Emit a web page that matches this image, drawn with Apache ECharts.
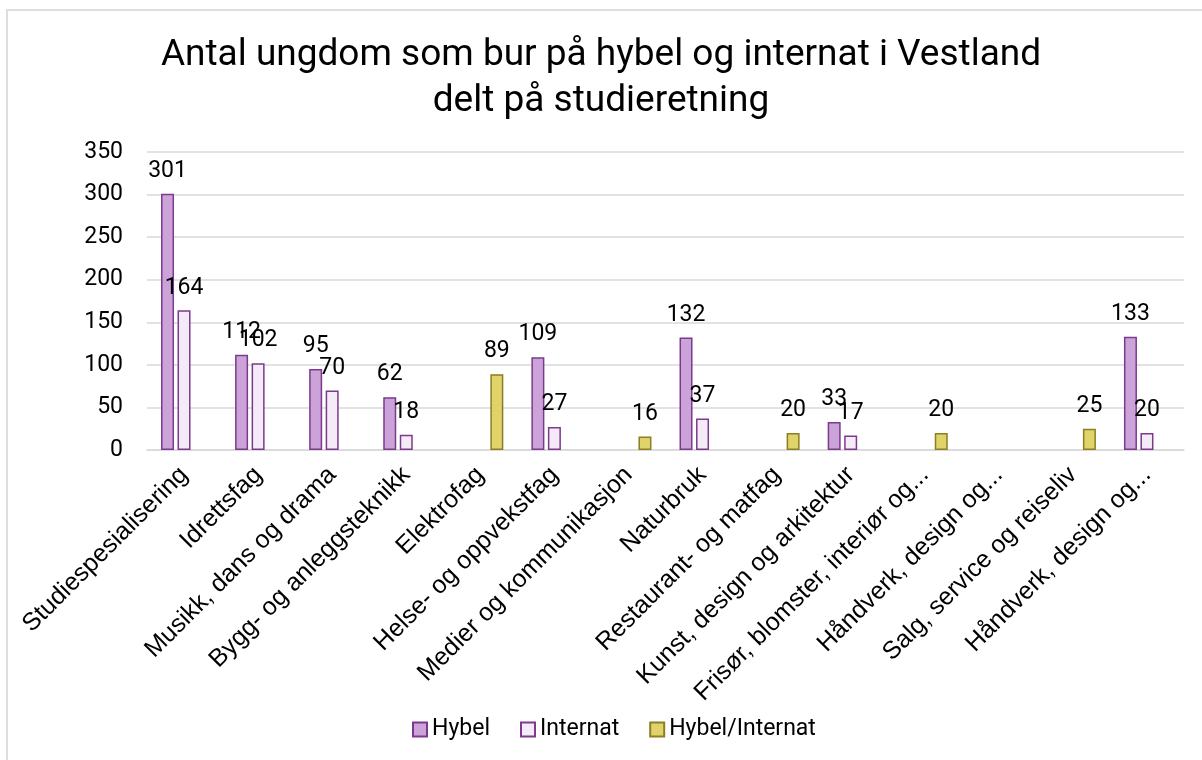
<!DOCTYPE html>
<html>
<head>
    <meta charset="UTF-8">
    <title>Hybel og internat</title>
    <script type="text/javascript" src="https://cdn.jsdelivr.net/npm/echarts@6/dist/echarts.min.js"></script>
    <style>
        html, body { margin: 0; padding: 0; background: #fff; }
        #chart { width: 1202px; height: 760px; }
    </style>
</head>
<body>
<div id="chart"></div>
<script type="text/javascript">
    // studieretningar
    var categories = [
        'Studiespesialisering', 'Idrettsfag', 'Musikk, dans og drama', 'Bygg- og anleggsteknikk',
        'Elektrofag', 'Helse- og oppvekstfag', 'Medier og kommunikasjon', 'Naturbruk',
        'Restaurant- og matfag', 'Kunst, design og arkitektur', 'Frisør, blomster, interiør og...',
        'Håndverk, design og...', 'Salg, service og reiseliv', 'Håndverk, design og...'
    ];
    var hybel = [301, 112, 95, 62, null, 109, null, 132, null, 33, null, null, null, 133];
    var internat = [164, 102, 70, 18, null, 27, null, 37, null, 17, null, null, null, 20];
    var hybelInternat = [null, null, null, null, 89, null, 16, null, 20, null, 20, null, 25, null];
    var yTicks = [0, 50, 100, 150, 200, 250, 300, 350];

    var myChart = echarts.init(document.getElementById('chart'));

    var labelStyle = {
        show: true,
        position: 'top',
        distance: 11,
        fontFamily: 'Roboto',
        fontSize: 23,
        color: '#000'
    };

    function makeSeries(name, data, fill, border) {
        return {
            name: name,
            type: 'bar',
            data: data,
            barWidth: 13,
            barGap: '27%',
            itemStyle: { color: fill, borderColor: border, borderWidth: 1.5 },
            label: labelStyle,
            emphasis: { disabled: true }
        };
    }

    var option = {
        animation: false,
        backgroundColor: '#fff',
        title: {
            text: 'Antal ungdom som bur på hybel og internat i Vestland\ndelt på studieretning',
            left: 'center',
            top: 28,
            padding: [5, 5, 5, 23],
            textStyle: {
                fontFamily: 'Roboto',
                fontSize: 37,
                fontWeight: 'normal',
                color: '#000',
                lineHeight: 46
            }
        },
        legend: {
            bottom: 14,
            left: 407,
            itemWidth: 14,
            itemHeight: 14,
            itemGap: 30,
            icon: 'rect',
            textStyle: { fontFamily: 'Roboto', fontSize: 23, color: '#000' },
            data: ['Hybel', 'Internat', 'Hybel/Internat']
        },
        grid: { left: 147, right: 18, top: 152, bottom: 310 },
        xAxis: {
            type: 'category',
            data: categories,
            axisLine: { lineStyle: { color: '#d9d9d9', width: 1.5 } },
            axisTick: { show: false },
            axisLabel: {
                interval: 0,
                rotate: 45,
                margin: 21,
                fontFamily: 'Liberation Sans',
                fontSize: 25,
                color: '#000'
            }
        },
        yAxis: {
            type: 'value',
            min: yTicks[0],
            max: yTicks[yTicks.length - 1],
            interval: 50,
            axisLine: { show: false },
            axisTick: { show: false },
            splitLine: { lineStyle: { color: '#d9d9d9', width: 1.5 } },
            axisLabel: { margin: 24, fontFamily: 'Roboto', fontSize: 23, color: '#000' }
        },
        graphic: [{
            type: 'rect',
            shape: { x: 7, y: 10, width: 1300, height: 800 },
            style: { fill: 'none', stroke: '#dedede', lineWidth: 2 },
            silent: true
        }],
        series: [
            makeSeries('Hybel', hybel, '#cca3d8', '#7b3a8e'),
            makeSeries('Internat', internat, '#f4ebf7', '#7b3a8e'),
            makeSeries('Hybel/Internat', hybelInternat, '#dfd36a', '#8c7e22')
        ]
    };

    myChart.setOption(option);
</script>
</body>
</html>
